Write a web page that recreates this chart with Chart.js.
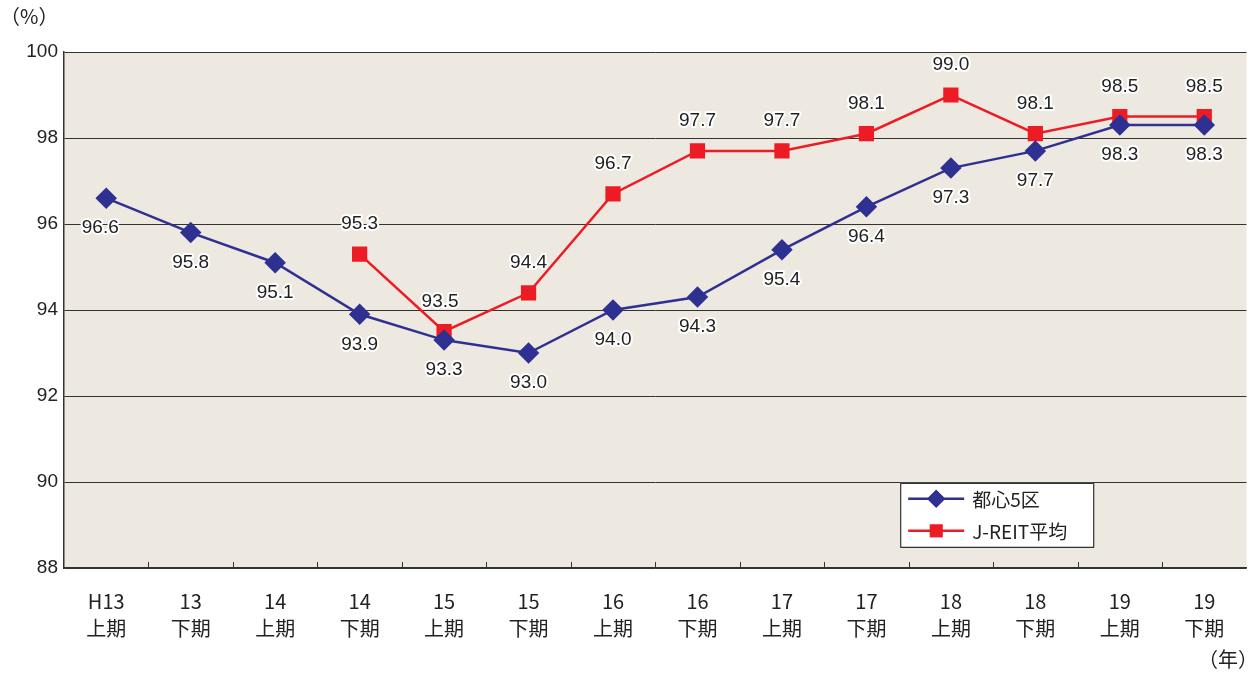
<!DOCTYPE html>
<html>
<head>
<meta charset="utf-8">
<script src="https://cdn.jsdelivr.net/npm/chart.js@4.4.0/dist/chart.umd.min.js"></script>
<style>
  html, body { margin: 0; padding: 0; background: #fff; }
  #wrap { width: 1258px; height: 673px; position: relative; }
</style>
</head>
<body>
<div id="wrap"><canvas id="occChart" width="1258" height="673"></canvas></div>
<script>
// 空室率推移 - 都心5区 vs J-REIT平均
const categories = [
    ['H13', '上期'], ['13', '下期'], ['14', '上期'], ['14', '下期'],
    ['15', '上期'], ['15', '下期'], ['16', '上期'], ['16', '下期'],
    ['17', '上期'], ['17', '下期'], ['18', '上期'], ['18', '下期'],
    ['19', '上期'], ['19', '下期'],
];
const toshin5 = [96.6, 95.8, 95.1, 93.9, 93.3, 93.0, 94.0, 94.3, 95.4, 96.4, 97.3, 97.7, 98.3, 98.3];
const jreit = [null, null, null, 95.3, 93.5, 94.4, 96.7, 97.7, 97.7, 98.1, 99.0, 98.1, 98.5, 98.5];
const yTicks = [88, 90, 92, 94, 96, 98, 100];

const NUM_FONT = '"Liberation Sans", Arial, sans-serif';
const JP_FONT = '"Noto Sans CJK JP", "Liberation Sans", sans-serif';
const BLUE = '#2e3192';
const RED = '#ed1c24';

// plot background, inner x ticks, data labels, legend and unit captions
const decor = {
    id: 'decor',
    beforeDraw(chart) {
        const { ctx, chartArea: a } = chart;
        ctx.save();
        ctx.fillStyle = '#ede9e0';
        ctx.fillRect(a.left, a.top, a.right - a.left, a.bottom - a.top);
        ctx.restore();
    },
    afterDatasetsDraw(chart) {
        const { ctx, chartArea: a, scales } = chart;
        ctx.save();
        // small ticks pointing up from the bottom border
        ctx.strokeStyle = '#333';
        ctx.lineWidth = 1;
        for (let i = 1; i < categories.length; i++) {
            const x = Math.round(scales.x.getPixelForValue(i - 0.5)) + 0.5;
            ctx.beginPath();
            ctx.moveTo(x, a.bottom);
            ctx.lineTo(x, a.bottom - 6);
            ctx.stroke();
        }
        // value labels with white halo
        ctx.font = '19px ' + NUM_FONT;
        ctx.textAlign = 'center';
        ctx.textBaseline = 'middle';
        ctx.lineJoin = 'round';
        chart.data.datasets.forEach((ds, di) => {
            const meta = chart.getDatasetMeta(di);
            meta.data.forEach((pt, i) => {
                const v = ds.data[i];
                if (v == null) return;
                const dy = di === 0 ? 30 : -30;
                const dx = (di === 0 && i === 0) ? -6 : (di === 1 && i === 4 ? -4 : 0);
                const txt = v.toFixed(1);
                ctx.strokeStyle = '#fff';
                ctx.lineWidth = 4;
                ctx.strokeText(txt, pt.x + dx, pt.y + dy);
                ctx.fillStyle = '#222';
                ctx.fillText(txt, pt.x + dx, pt.y + dy);
            });
        });
        // legend box
        const lx = scales.x.getPixelForValue(9.4), ly = scales.y.getPixelForValue(89.98);
        const lw = 193, lh = 64;
        ctx.fillStyle = '#fff';
        ctx.fillRect(lx, ly, lw, lh);
        ctx.strokeStyle = '#333';
        ctx.lineWidth = 1.2;
        ctx.strokeRect(lx + 0.5, ly + 0.5, lw, lh);
        const rows = [
            { label: '都心5区', color: BLUE, style: 'rectRot' },
            { label: 'J-REIT平均', color: RED, style: 'rect' },
        ];
        rows.forEach((r, k) => {
            const cy = ly + 16 + k * 32;
            ctx.strokeStyle = r.color;
            ctx.lineWidth = 2.5;
            ctx.beginPath();
            ctx.moveTo(lx + 8, cy);
            ctx.lineTo(lx + 64, cy);
            ctx.stroke();
            ctx.fillStyle = r.color;
            Chart.helpers.drawPoint(ctx, { pointStyle: r.style, radius: 9, rotation: 0 }, lx + 36, cy);
            ctx.fill();
            ctx.fillStyle = '#222';
            ctx.textAlign = 'left';
            ctx.font = '19px ' + JP_FONT;
            ctx.fillText(r.label, lx + 72, cy + 1);
        });
        ctx.restore();
    },
    afterDraw(chart) {
        const { ctx } = chart;
        ctx.save();
        ctx.fillStyle = '#222';
        ctx.font = '20px ' + JP_FONT;
        ctx.textBaseline = 'middle';
        ctx.textAlign = 'left';
        ctx.fillText('（%）', 0, 16);
        ctx.textAlign = 'right';
        ctx.fillText('（年）', 1258, 659);
        ctx.restore();
    }
};

new Chart(document.getElementById('occChart'), {
    type: 'line',
    data: {
        labels: categories,
        datasets: [
            {
                label: '都心5区',
                data: toshin5,
                borderColor: BLUE,
                backgroundColor: BLUE,
                borderWidth: 2.5,
                pointStyle: 'rectRot',
                pointRadius: 9,
                pointHoverRadius: 9,
                tension: 0,
            },
            {
                label: 'J-REIT平均',
                data: jreit,
                borderColor: RED,
                backgroundColor: RED,
                borderWidth: 2.5,
                pointStyle: 'rect',
                pointRadius: 9,
                pointHoverRadius: 9,
                tension: 0,
                spanGaps: false,
            },
        ]
    },
    options: {
        responsive: false,
        animation: false,
        layout: { padding: { top: 52, right: 8, left: 0, bottom: 0 } },
        plugins: {
            legend: { display: false },
            tooltip: { enabled: false },
        },
        scales: {
            x: {
                offset: true,
                grid: { display: false },
                border: { color: '#333', width: 1.5 },
                ticks: {
                    color: '#222',
                    padding: 12,
                    maxRotation: 0,
                    autoSkip: false,
                    font: { family: JP_FONT, size: 20, lineHeight: 1.35 },
                },
                afterFit: s => { s.height = 673 - 568; },
            },
            y: {
                min: 88,
                max: 100,
                afterBuildTicks: s => { s.ticks = yTicks.map(v => ({ value: v })); },
                grid: { color: '#333', lineWidth: 1, drawTicks: false },
                border: { color: '#333', width: 1.5 },
                ticks: {
                    color: '#222',
                    padding: 6,
                    font: { family: NUM_FONT, size: 19 },
                },
                afterFit: s => { s.width = 64; },
            },
        }
    },
    plugins: [decor]
});
</script>
</body>
</html>
